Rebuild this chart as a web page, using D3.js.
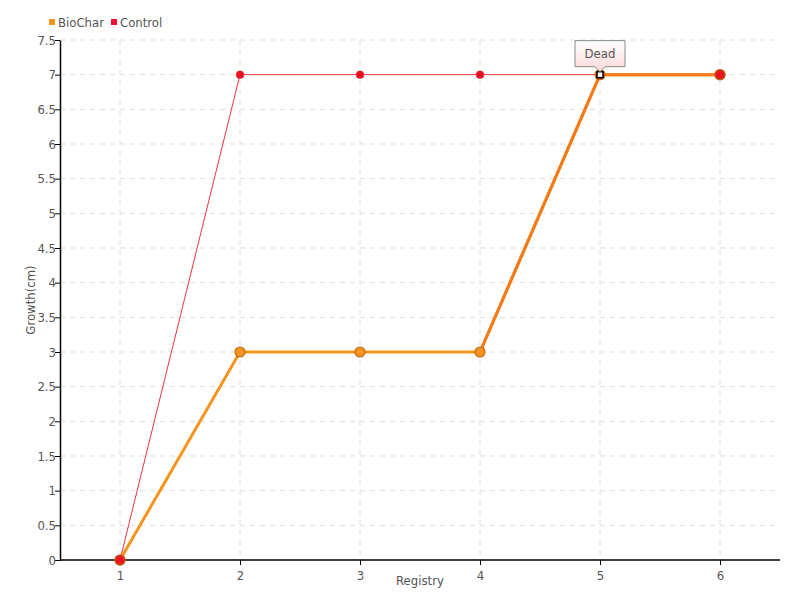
<!DOCTYPE html>
<html lang="en">
<head>
<meta charset="UTF-8">
<title>Growth</title>
<style>
  body { margin: 0; background: #fff; }
  text { font-family: "DejaVu Sans", sans-serif; font-stretch: condensed; fill: #555; }
  .grid line { stroke: #ddd; stroke-dasharray: 5,5; }
</style>
</head>
<body>
<svg width="800" height="600"></svg>
<script src="https://d3js.org/d3.v7.min.js"></script>
<script>
// data
const registry = [1, 2, 3, 4, 5, 6];
const biochar = [0, 3, 3, 3, 7, 7];
const control = [0, 7, 7, 7, 7, 7];
const yTicks = [0, 0.5, 1, 1.5, 2, 2.5, 3, 3.5, 4, 4.5, 5, 5.5, 6, 6.5, 7, 7.5];
const note = { index: 4, label: "Dead" };

const svg = d3.select("svg");
const mLeft = 60, mRight = 780, mTop = 40, mBottom = 560;

const x = d3.scaleLinear().domain([0.5, 6.5]).range([mLeft, mRight]);
const y = d3.scaleLinear().domain([0, 7.5]).range([mBottom, mTop]);

// grid
const grid = svg.append("g").attr("class", "grid");
grid.selectAll(".gx").data(registry).enter().append("line")
    .attr("x1", d => x(d)).attr("x2", d => x(d))
    .attr("y1", mTop).attr("y2", mBottom);
grid.selectAll(".gy").data(yTicks).enter().append("line")
    .attr("x1", mLeft).attr("x2", mRight)
    .attr("y1", d => y(d)).attr("y2", d => y(d));

// axes
const xAxis = svg.append("g").attr("transform", `translate(0,${mBottom})`)
    .call(d3.axisBottom(x).tickValues(registry).tickSize(5).tickSizeOuter(0).tickFormat(d3.format("d")));
const yAxis = svg.append("g").attr("transform", `translate(${mLeft},0)`)
    .call(d3.axisLeft(y).tickValues(yTicks).tickSize(5).tickSizeOuter(0).tickFormat(d3.format("")));
[xAxis, yAxis].forEach(a => {
    a.select(".domain").attr("stroke", "#000").attr("stroke-width", 1.5);
    a.selectAll(".tick line").attr("stroke", "#000");
    a.selectAll("text").style("font-size", "13px").attr("fill", "#555");
});
xAxis.select(".domain").attr("d", `M${mLeft},0H${mRight}`);
xAxis.selectAll("text").attr("dy", "0.9em");
yAxis.selectAll("text").attr("x", -4);

svg.append("text").attr("x", 420).attr("y", 585)
    .attr("text-anchor", "middle").style("font-size", "13px").text("Registry");
svg.append("text").attr("transform", "translate(35,300) rotate(-90)")
    .attr("text-anchor", "middle").style("font-size", "13px").text("Growth(cm)");

const line = d3.line().x((d, i) => x(registry[i])).y(d => y(d));

// control line
svg.append("path").datum(control).attr("d", line)
    .attr("fill", "none").attr("stroke", "#ee3344").attr("stroke-width", 1);
// biochar line
svg.append("path").datum(biochar).attr("d", line)
    .attr("fill", "none").attr("stroke", "#f7941d").attr("stroke-width", 3);
svg.append("path").datum(biochar.slice(3)).attr("d", d3.line().x((d, i) => x(registry[i + 3])).y(d => y(d)))
    .attr("fill", "none").attr("stroke", "#f47a1a").attr("stroke-width", 3);

// biochar markers
svg.selectAll(".pb").data(biochar).enter().append("circle")
    .attr("cx", (d, i) => x(registry[i])).attr("cy", d => y(d)).attr("r", 5)
    .attr("fill", "#f7941d").attr("stroke", "#c8661a").attr("stroke-width", 1.2);
// control markers
svg.selectAll(".pc").data(control).enter().append("circle")
    .attr("cx", (d, i) => x(registry[i])).attr("cy", d => y(d))
    .attr("r", (d, i) => (i === 0 || i === 5) ? 5 : 4)
    .attr("fill", "#ee1122")
    .attr("stroke", (d, i) => (i === 0 || i === 5) ? "#b8641a" : "none").attr("stroke-width", 1.2);

// annotation
const nx = x(registry[note.index]), ny = y(biochar[note.index]);
svg.append("rect").attr("x", nx - 3).attr("y", ny - 3).attr("width", 6).attr("height", 6)
    .attr("fill", "#fff").attr("stroke", "#000").attr("stroke-width", 1.5);
const defs = svg.append("defs");
const grad = defs.append("linearGradient").attr("id", "tip").attr("x1", 0).attr("y1", 0).attr("x2", 0).attr("y2", 1);
grad.append("stop").attr("offset", "0%").attr("stop-color", "#fff");
grad.append("stop").attr("offset", "100%").attr("stop-color", "#fcd8d8");
const bx = nx - 25, bw = 50, by = ny - 34, bh = 26;
svg.append("path")
    .attr("d", `M${bx},${by}H${bx + bw}V${by + bh}H${nx + 5}L${nx},${by + bh + 5}L${nx - 5},${by + bh}H${bx}Z`)
    .attr("fill", "url(#tip)").attr("stroke", "#888").attr("stroke-width", 1);
svg.append("text").attr("x", nx).attr("y", by + 17).attr("text-anchor", "middle")
    .style("font-size", "13px").text(note.label);

// legend
const legend = [{ name: "BioChar", color: "#f7941d", x: 49 }, { name: "Control", color: "#ee1133", x: 111 }];
legend.forEach(l => {
    svg.append("rect").attr("x", l.x).attr("y", 19).attr("width", 6).attr("height", 6).attr("fill", l.color);
    svg.append("text").attr("x", l.x + 9).attr("y", 27).style("font-size", "13px").text(l.name);
});
</script>
</body>
</html>
